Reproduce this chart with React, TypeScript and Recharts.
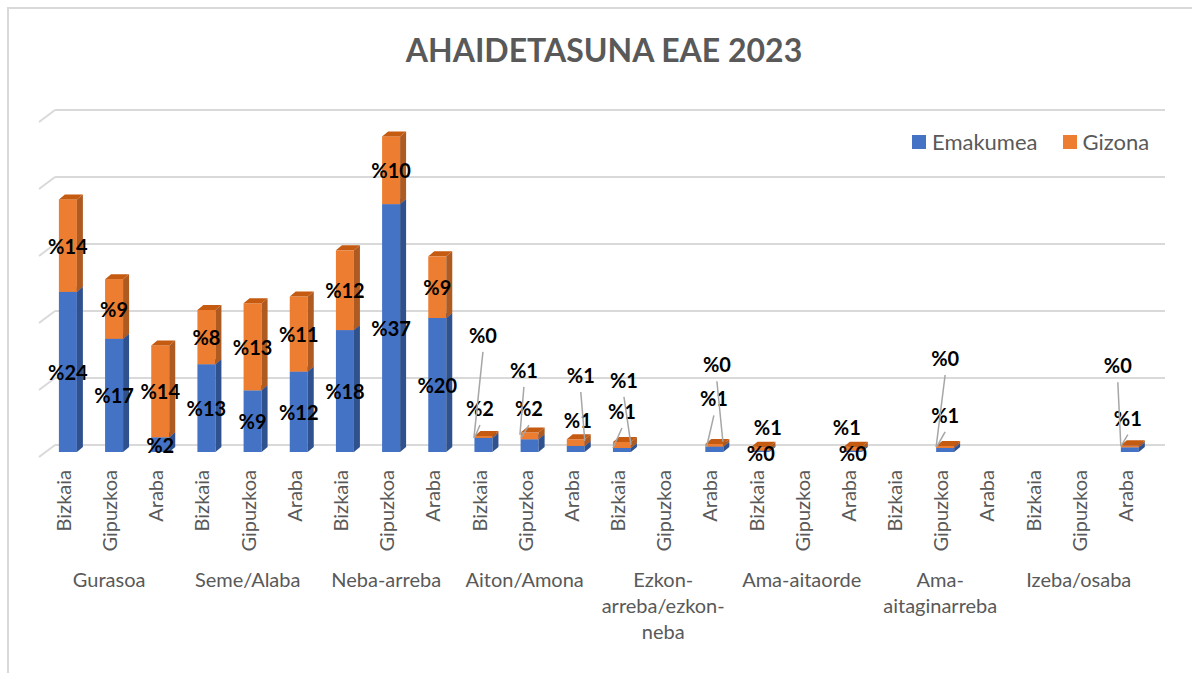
import React from 'react';
import { BarChart, Bar, XAxis, YAxis, CartesianGrid, Legend, LabelList } from 'recharts';

// Shares (%) by relationship group and province
const groups = ['Gurasoa', 'Seme/Alaba', 'Neba-arreba', 'Aiton/Amona', 'Ezkon-arreba/ezkon-neba', 'Ama-aitaorde', 'Ama-aitaginarreba', 'Izeba/osaba'];
const groupLines = [['Gurasoa'], ['Seme/Alaba'], ['Neba-arreba'], ['Aiton/Amona'], ['Ezkon-', 'arreba/ezkon-', 'neba'], ['Ama-aitaorde'], ['Ama-', 'aitaginarreba'], ['Izeba/osaba']];
const provinces = ['Bizkaia', 'Gipuzkoa', 'Araba'];

const emakumea = [
  23.9, 16.9, 2.2,
  13.1, 9.2, 12.0,
  18.2, 37.0, 20.0,
  2.1, 1.9, 0.9,
  0.6, null, 0.8,
  0.2, null, 0.2,
  null, 0.6, null,
  null, null, 0.7,
];
const gizona = [
  13.8, 8.9, 13.7,
  8.1, 13.0, 11.2,
  11.9, 10.1, 9.2,
  0.3, 1.0, 1.0,
  0.9, null, 0.4,
  0.6, null, 0.6,
  null, 0.3, null,
  null, null, 0.3,
];

const data = groups.flatMap((g, gi) =>
  provinces.map((p, pi) => {
    const i = gi * 3 + pi;
    return { id: `${gi}-${pi}`, group: g, prov: p, emakumea: emakumea[i], gizona: gizona[i] };
  })
);

const COLORS = {
  blue: '#4472C4', blueSide: '#2F528F', blueTop: '#3B64AD',
  orange: '#ED7D31', orangeSide: '#AE5A21', orangeTop: '#C55A11',
  grid: '#D9D9D9', text: '#595959', leader: '#A6A6A6',
};
const FONT = 'Lato, "Open Sans", sans-serif';
const DX = 6;
const DY = 5;

// Excel moved some small labels away from their bars (dx/dy from segment centre, leader target)
const LABEL_NUDGE: Record<string, { dx: number; dy: number; lead?: [number, number] }> = {
  'e-9': { dx: -3.5, dy: -37, lead: [-8.5, -8] },
  'g-9': { dx: -0.5, dy: -102, lead: [-9.5, 1] },
  'e-10': { dx: -0.7, dy: -37.6, lead: [-8.7, -7.6] },
  'g-10': { dx: -5.7, dy: -66, lead: [-9.7, -1] },
  'e-11': { dx: 2, dy: -29 },
  'g-11': { dx: 5, dy: -67.6, lead: [9, -2] },
  'e-12': { dx: 0, dy: -39, lead: [-9, -2] },
  'g-12': { dx: 2, dy: -65, lead: [9, 0] },
  'e-14': { dx: -0.4, dy: -51, lead: [-7.7, -2.3] },
  'g-14': { dx: 2.6, dy: -81, lead: [8.6, -3.6] },
  'e-15': { dx: 0.4, dy: 1.7 },
  'g-15': { dx: 7.4, dy: -21.7 },
  'e-17': { dx: 0, dy: 1.7 },
  'g-17': { dx: -6, dy: -21.7 },
  'e-19': { dx: 0, dy: -35, lead: [-8.5, -3] },
  'g-19': { dx: 0, dy: -89, lead: [-9, 0] },
  'e-23': { dx: -2, dy: -32, lead: [-8, -5] },
  'g-23': { dx: -12, dy: -81, lead: [-9, 0] },
};

function make3D(front: string, side: string, top: string) {
  return (props: any) => {
    const { x, y, width: w, height: h } = props;
    if (!h || h <= 0) return <g />;
    return (
      <g>
        <rect x={x} y={y} width={w} height={h} fill={front} />
        <polygon points={`${x + w},${y} ${x + w + DX},${y - DY} ${x + w + DX},${y + h - DY} ${x + w},${y + h}`} fill={side} />
        <polygon points={`${x},${y} ${x + DX},${y - DY} ${x + w + DX},${y - DY} ${x + w},${y}`} fill={top} />
      </g>
    );
  };
}

function makeLabel(series: string) {
  return (p: any) => {
    const { x, y, width, height, value, index } = p;
    if (value == null) return null;
    const cx = x + width / 2;
    const cy = y + height / 2;
    const n = LABEL_NUDGE[`${series}-${index}`];
    const lx = cx + (n ? n.dx : 0);
    const ly = cy + (n ? n.dy : 0);
    return (
      <g key={`${series}-${index}`}>
        {n && n.lead && (
          <line x1={lx} y1={ly + 17} x2={cx + n.lead[0]} y2={cy + n.lead[1]} stroke={COLORS.leader} strokeWidth={1.5} />
        )}
        <text x={lx} y={ly} textAnchor="middle" dominantBaseline="central"
          fontFamily={FONT} fontWeight={700} fontSize={20} fill="#000">
          {`%${Math.round(value)}`}
        </text>
      </g>
    );
  };
}

function AxisTick(props: any) {
  const { x, y, index } = props;
  const d = data[index];
  if (!d) return null;
  const tx = x - 5;
  const gi = Math.floor(index / 3);
  return (
    <g>
      <text x={tx} y={y + 18} transform={`rotate(-90, ${tx}, ${y + 18})`} textAnchor="end" dominantBaseline="central"
        fontFamily={FONT} fontSize={20} fill={COLORS.text}>
        {d.prov}
      </text>
      {index % 3 === 1 && groupLines[gi].map((line, li) => (
        <text key={li} x={tx} y={y + 127 + li * 26} textAnchor="middle" dominantBaseline="central"
          fontFamily={FONT} fontSize={20} fill={COLORS.text}>
          {line}
        </text>
      ))}
    </g>
  );
}

function gridLine(p: any) {
  const y = p.y1;
  return (
    <g key={p.key}>
      <line x1={55} y1={y - 7} x2={1165} y2={y - 7} stroke={COLORS.grid} strokeWidth={2} />
      <line x1={39} y1={y + 5} x2={55} y2={y - 7} stroke={COLORS.grid} strokeWidth={2} />
    </g>
  );
}

function LegendContent() {
  const items = [
    { name: 'Emakumea', color: COLORS.blue },
    { name: 'Gizona', color: COLORS.orange },
  ];
  return (
    <div style={{ display: 'flex', alignItems: 'center', fontFamily: FONT, fontSize: 22, color: COLORS.text }}>
      {items.map((it) => (
        <div key={it.name} style={{ display: 'flex', alignItems: 'center', marginRight: 25 }}>
          <span style={{ width: 14, height: 14, background: it.color, display: 'inline-block', marginRight: 6 }} />
          <span>{it.name}</span>
        </div>
      ))}
    </div>
  );
}

export default function App() {
  return (
    <div style={{ position: 'absolute', left: 0, top: 0, width: 1192, height: 673, background: '#fff', overflow: 'hidden' }}>
      <div style={{ position: 'absolute', left: 7, top: 7, width: 1200, height: 700, border: `2px solid ${COLORS.grid}` }} />
      <svg width={1192} height={80} style={{ position: 'absolute', left: 0, top: 0 }}>
        <text x={604} y={62} textAnchor="middle" fontFamily={FONT} fontWeight={700} fontSize={32} fill={COLORS.text}>
          AHAIDETASUNA EAE 2023
        </text>
      </svg>
      <div style={{ position: 'absolute', left: 0, top: 0 }}>
        <BarChart width={1192} height={673} data={data} margin={{ top: 117, right: 39, left: 44.9, bottom: 0 }}>
          <CartesianGrid vertical={false} horizontal={gridLine} />
          <YAxis hide domain={[0, 50]} ticks={[0, 10, 20, 30, 40, 50]} />
          <XAxis dataKey="id" height={221} interval={0} tickLine={false} axisLine={false} tickSize={0} tickMargin={0} tick={<AxisTick />} />
          <Legend layout="horizontal" verticalAlign="middle" align="center" content={<LegendContent />}
            wrapperStyle={{ position: 'absolute', top: 128, left: 912, width: 270 }} />
          <Bar dataKey="emakumea" name="Emakumea" stackId="a" barSize={18} fill={COLORS.blue} isAnimationActive={false}
            shape={make3D(COLORS.blue, COLORS.blueSide, COLORS.blueTop)}>
            <LabelList dataKey="emakumea" content={makeLabel('e')} />
          </Bar>
          <Bar dataKey="gizona" name="Gizona" stackId="a" barSize={18} fill={COLORS.orange} isAnimationActive={false}
            shape={make3D(COLORS.orange, COLORS.orangeSide, COLORS.orangeTop)}>
            <LabelList dataKey="gizona" content={makeLabel('g')} />
          </Bar>
        </BarChart>
      </div>
    </div>
  );
}
